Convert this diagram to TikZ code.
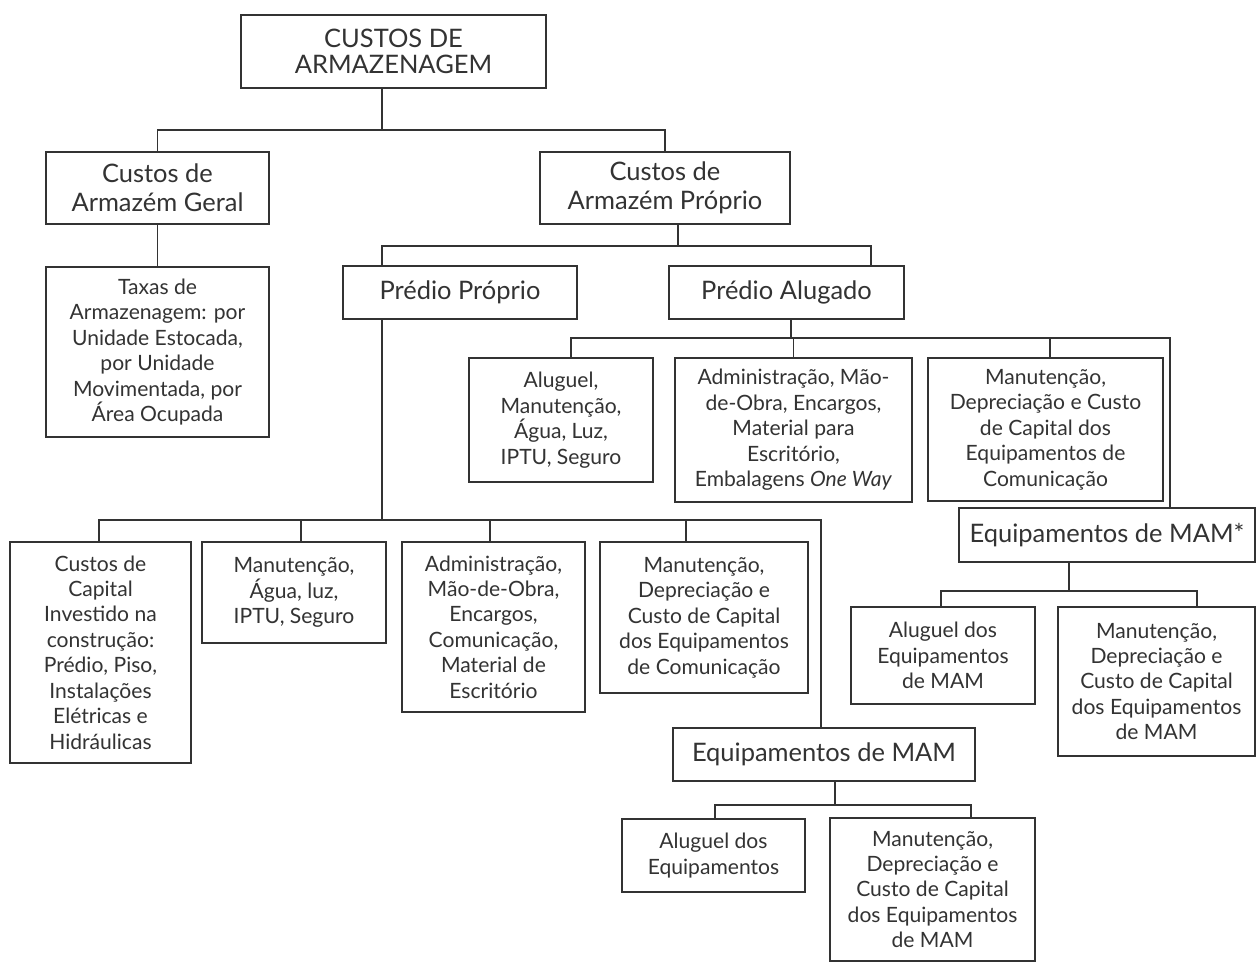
\documentclass[tikz,border=0pt]{standalone}
\usepackage{fontspec}
\setmainfont{Lato}

\begin{document}
\begin{tikzpicture}[x=0.02cm,y=-0.02cm] % one unit = one pixel of the scan
    \tikzstyle{box}=[draw=black!80, text=black!80, line width=0.9pt, inner sep=1pt, align=center, font=\fontsize{12}{14.5}\selectfont]
    \tikzstyle{bigbox}=[box, font=\fontsize{14.5}{16.5}\selectfont]
    \tikzstyle{link}=[draw=black!80, line width=0.9pt]
    \fill[white] (0,0) rectangle (1256,963);
    \useasboundingbox (0,0) rectangle (1256,963);

    % first levels
    \node [bigbox, minimum width=6.10cm, minimum height=1.46cm, font=\fontsize{14.5}{14.5}\selectfont] (custos) at (393.5,51.5) {CUSTOS DE\\ARMAZENAGEM};
    \node [bigbox, minimum width=4.46cm, minimum height=1.44cm] (geral) at (157.5,188) {Custos de\\Armazém Geral};
    \node [bigbox, minimum width=5.00cm, minimum height=1.44cm] (proprio) at (665,188) {Custos de\\Armazém Próprio};
    \node [box, minimum width=4.46cm, minimum height=3.40cm] (taxas) at (157.5,352) {Taxas de\\Armazenagem: por\\Unidade Estocada,\\por Unidade\\Movimentada, por\\Área Ocupada};
    \node [bigbox, minimum width=4.68cm, minimum height=1.06cm] (predprop) at (460,292.5) {Prédio Próprio};
    \node [bigbox, minimum width=4.70cm, minimum height=1.06cm] (predalug) at (786.5,292.5) {Prédio Alugado};

    % predio alugado
    \node [box, minimum width=3.68cm, minimum height=2.48cm] (aluguel) at (561,420) {Aluguel,\\Manutenção,\\Água, Luz,\\IPTU, Seguro};
    \node [box, minimum width=4.74cm, minimum height=2.88cm] (admalug) at (793.5,430) {Administração, Mão-\\de-Obra, Encargos,\\Material para\\Escritório,\\Embalagens \textit{One Way}};
    \node [box, minimum width=4.70cm, minimum height=2.86cm] (comalug) at (1045.5,429.5) {Manutenção,\\Depreciação e Custo\\de Capital dos\\Equipamentos de\\Comunicação};
    \node [bigbox, minimum width=5.92cm, minimum height=1.08cm] (mamalug) at (1107,535) {Equipamentos de MAM*};
    \node [box, minimum width=3.68cm, minimum height=1.94cm] (alugmam) at (943,655.5) {Aluguel dos\\Equipamentos\\de MAM};
    \node [box, minimum width=3.94cm, minimum height=2.98cm] (manmam) at (1156.5,681.5) {Manutenção,\\Depreciação e\\Custo de Capital\\dos Equipamentos\\de MAM};

    % predio proprio
    \node [box, minimum width=3.62cm, minimum height=4.42cm] (capital) at (100.5,652.5) {Custos de\\Capital\\Investido na\\construção:\\Prédio, Piso,\\Instalações\\Elétricas e\\Hidráulicas};
    \node [box, minimum width=3.68cm, minimum height=2.02cm] (manprop) at (294,592.5) {Manutenção,\\Água, luz,\\IPTU, Seguro};
    \node [box, minimum width=3.66cm, minimum height=3.40cm] (admprop) at (493.5,627) {Administração,\\Mão-de-Obra,\\Encargos,\\Comunicação,\\Material de\\Escritório};
    \node [box, minimum width=4.16cm, minimum height=3.02cm] (comprop) at (704,617.5) {Manutenção,\\Depreciação e\\Custo de Capital\\dos Equipamentos\\de Comunicação};
    \node [bigbox, minimum width=6.04cm, minimum height=1.06cm] (mamprop) at (824,754.5) {Equipamentos de MAM};
    \node [box, minimum width=3.66cm, minimum height=1.46cm] (alugeq) at (713.5,855.5) {Aluguel dos\\Equipamentos};
    \node [box, minimum width=4.10cm, minimum height=2.86cm] (maneq) at (932.5,889.5) {Manutenção,\\Depreciação e\\Custo de Capital\\dos Equipamentos\\de MAM};

    % connectors
    \draw [link] ([xshift=-0.23cm]custos.south) -- ++(0,41) coordinate (j1);
    \draw [link] (j1) -| (geral.north);
    \draw [link] (j1) -| (proprio.north);
    \draw [link] (geral) -- (taxas);

    \draw [link] ([xshift=0.26cm]proprio.south) -- ++(0,21) coordinate (j2);
    \draw [link] (j2) -| ([xshift=-1.56cm]predprop.north);
    \draw [link] (j2) -| ([xshift=1.69cm]predalug.north);

    \draw [link] ([xshift=0.09cm]predalug.south) -- ++(0,18) coordinate (j3);
    \draw [link] (j3) -| ([xshift=0.2cm]aluguel.north);
    \draw [link] (j3) -| (admalug.north);
    \draw [link] (j3) -| ([xshift=0.09cm]comalug.north);
    \draw [link] (j3) -| ([xshift=1.26cm]mamalug.north);

    \draw [link] ([xshift=-0.76cm]mamalug.south) -- ++(0,28) coordinate (j4);
    \draw [link] (j4) -| ([xshift=-0.04cm]alugmam.north);
    \draw [link] (j4) -| ([xshift=0.81cm]manmam.north);

    \draw [link] ([xshift=-1.56cm]predprop.south) -- ++(0,200) coordinate (j5);
    \draw [link] (j5) -| ([xshift=-0.03cm]capital.north);
    \draw [link] (j5) -| ([xshift=0.14cm]manprop.north);
    \draw [link] (j5) -| ([xshift=-0.07cm]admprop.north);
    \draw [link] (j5) -| ([xshift=-0.36cm]comprop.north);
    \draw [link] (j5) -| ([xshift=-0.06cm]mamprop.north);

    \draw [link] ([xshift=0.22cm]mamprop.south) -- ++(0,23) coordinate (j6);
    \draw [link] (j6) -| ([xshift=0.03cm]alugeq.north);
    \draw [link] (j6) -| ([xshift=0.77cm]maneq.north);
\end{tikzpicture}
\end{document}
